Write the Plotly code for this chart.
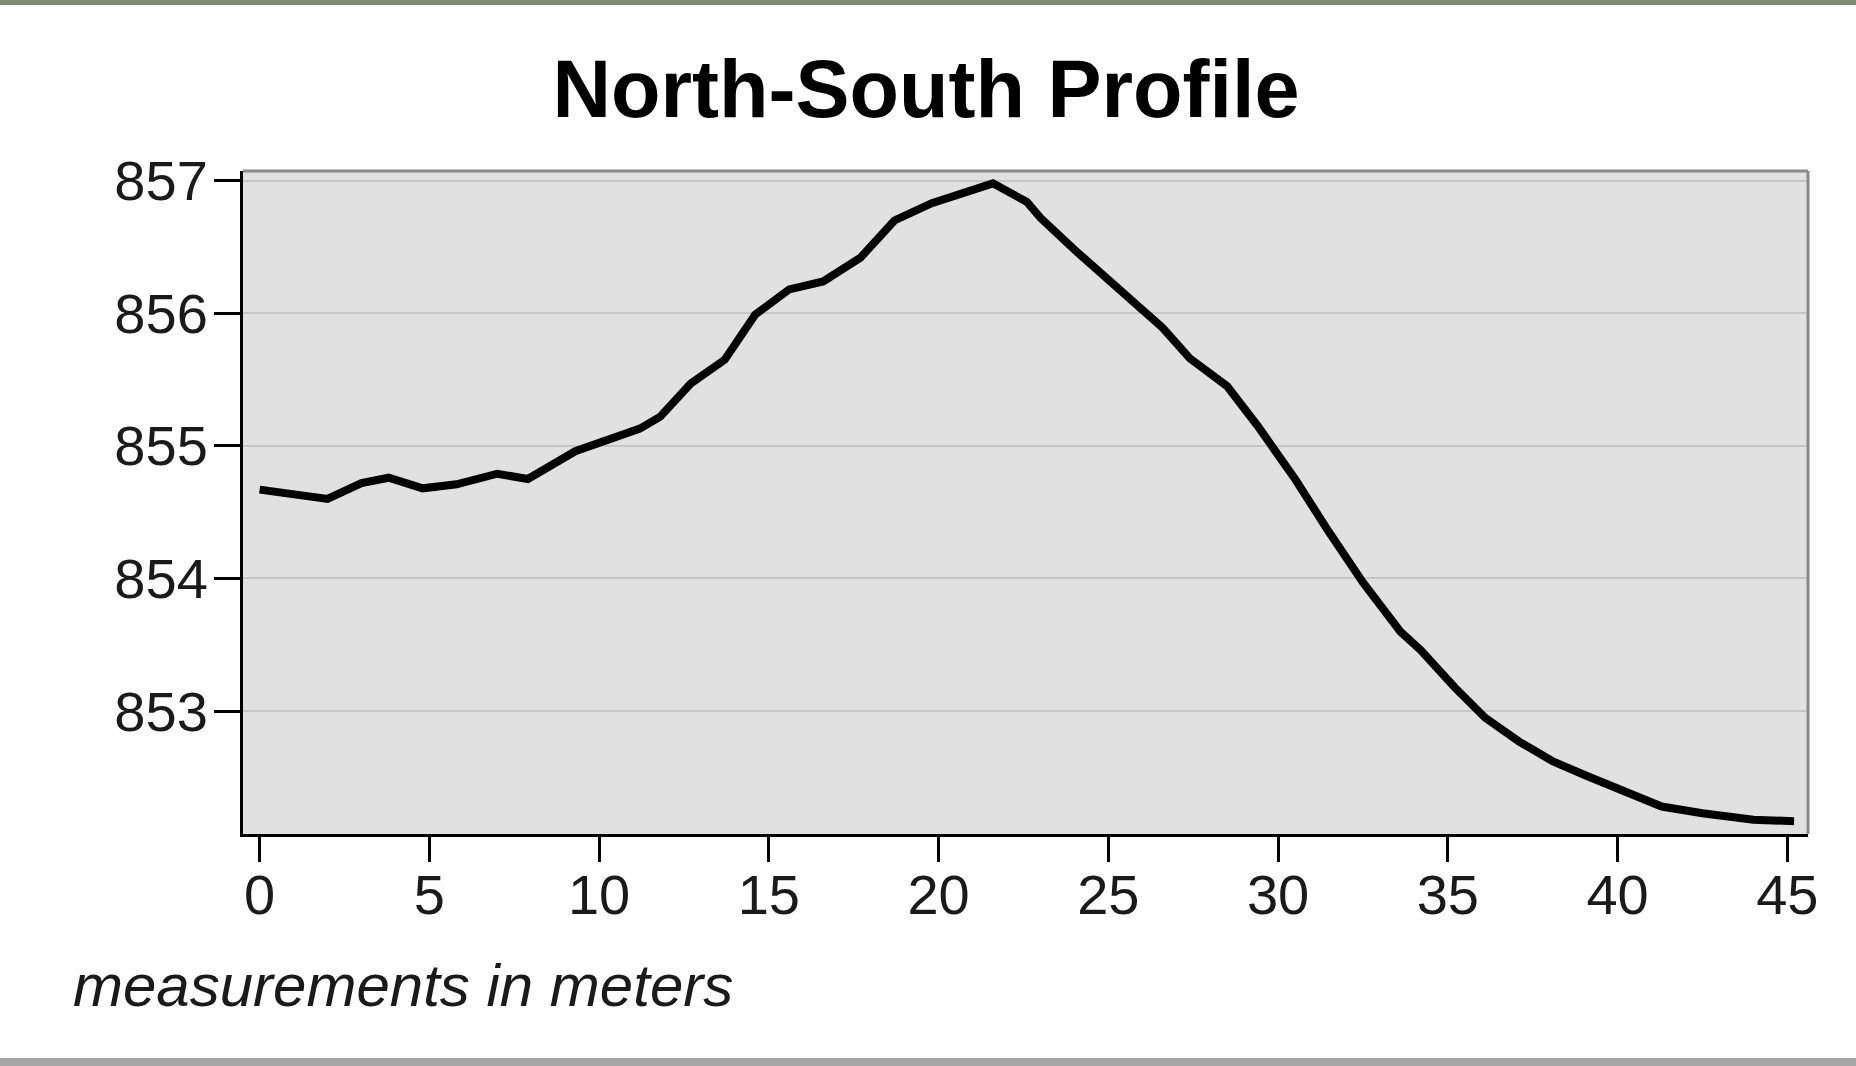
import plotly.graph_objects as go

# Profile readings (distance in meters, elevation)
distance_m = [0, 1, 2, 3, 3.8, 4.8, 5.8, 7, 7.9, 9.3, 10.3, 11.2, 11.8, 12.7,
              13.7, 14.6, 15.6, 16.6, 17.7, 18.7, 19.8, 20.6, 21.6, 22.6, 23.0,
              24.0, 24.8, 25.5, 26.6, 27.4, 28.5, 29.4, 30.5, 31.5, 32.5, 33.6,
              34.2, 35.2, 36.1, 37.1, 38.1, 39.1, 40.1, 41.3, 42.5, 44.0, 45.2]
elevation = [854.67, 854.64, 854.60, 854.72, 854.76, 854.68, 854.71, 854.79,
             854.75, 854.96, 855.05, 855.13, 855.22, 855.47, 855.65, 855.99,
             856.18, 856.24, 856.42, 856.70, 856.83, 856.90, 856.98, 856.84,
             856.72, 856.48, 856.30, 856.15, 855.89, 855.66, 855.45, 855.15,
             854.75, 854.35, 853.97, 853.60, 853.46, 853.18, 852.95, 852.77,
             852.62, 852.51, 852.40, 852.28, 852.23, 852.18, 852.17]

x_ticks = [0, 5, 10, 15, 20, 25, 30, 35, 40, 45]
y_ticks = [853, 854, 855, 856, 857]

title_text = "North-South Profile"
note_text = "measurements in meters"

W, H = 1856, 1066
ML, MR, MT, MB = 243, 48, 171, 232
plot_h = H - MT - MB
plot_w = W - ML - MR

FONT = "Liberation Sans, Arial, sans-serif"

fig = go.Figure()
fig.add_trace(go.Scatter(
    x=distance_m, y=elevation, mode="lines",
    line=dict(color="#000000", width=8),
    hoverinfo="skip", showlegend=False,
))

def py(px):
    # page pixel y -> paper y
    return 1 - (px - MT) / plot_h

def pxx(px):
    return (px - ML) / plot_w

shapes = [
    # top and right gray frame
    dict(type="line", xref="paper", yref="paper", x0=0, x1=1, y0=1, y1=1,
         line=dict(color="#8a8a8a", width=3)),
    dict(type="line", xref="paper", yref="paper", x0=1, x1=1, y0=0, y1=1,
         line=dict(color="#8a8a8a", width=3)),
    # page edge bands
    dict(type="rect", xref="paper", yref="paper", x0=pxx(0), x1=pxx(W),
         y0=py(0), y1=py(5), line=dict(width=0), fillcolor="#7d8c72", layer="below"),
    dict(type="rect", xref="paper", yref="paper", x0=pxx(0), x1=pxx(W),
         y0=py(1058), y1=py(H), line=dict(width=0), fillcolor="#a6a6a6", layer="below"),
]

fig.update_layout(
    width=W, height=H,
    margin=dict(l=ML, r=MR, t=MT, b=MB, pad=0),
    paper_bgcolor="#ffffff",
    plot_bgcolor="#e1e1e1",
    font=dict(family=FONT, color="#1a1a1a"),
    title=dict(text="<b>" + title_text + "</b>", x=926 / W, xref="container", xanchor="center",
               y=1 - 89 / H, yref="container", yanchor="middle",
               font=dict(size=81, color="#000000", family=FONT)),
    xaxis=dict(range=[-0.49, 45.61], tickvals=x_ticks, ticktext=[str(v) for v in x_ticks],
               showgrid=False, zeroline=False,
               showline=True, linecolor="#000000", linewidth=3,
               ticks="outside", ticklen=25, tickwidth=3, tickcolor="#000000",
               ticklabelstandoff=-15,
               tickfont=dict(size=56, family=FONT, color="#1a1a1a")),
    yaxis=dict(range=[852.073, 857.073], tickvals=y_ticks, ticktext=[str(v) for v in y_ticks],
               showgrid=True, gridcolor="#c6c6c6", gridwidth=2, zeroline=False,
               showline=True, linecolor="#000000", linewidth=3,
               ticks="outside", ticklen=26, tickwidth=3, tickcolor="#000000",
               ticklabelstandoff=-5,
               tickfont=dict(size=56, family=FONT, color="#1a1a1a")),
    shapes=shapes,
    annotations=[dict(text="<i>" + note_text + "</i>", xref="paper", yref="paper",
                      x=pxx(71), y=py(985), xanchor="left", yanchor="middle",
                      showarrow=False, font=dict(size=60, family=FONT, color="#1a1a1a"))],
)

fig.write_html("out.html", config={"displayModeBar": False},
               post_script="document.body.style.margin='0';document.body.style.padding='0';")
